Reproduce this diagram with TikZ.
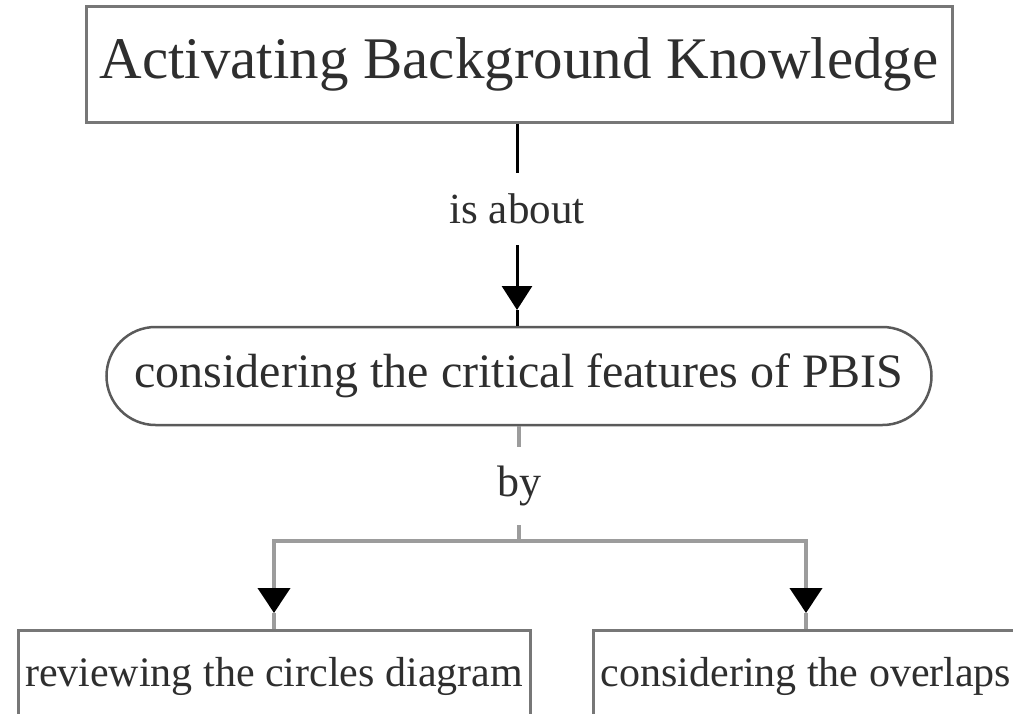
\documentclass[tikz,border=0pt]{standalone}
\usepackage{fontspec}
\setmainfont{Liberation Serif}
\usetikzlibrary{arrows.meta,shapes.misc}
\definecolor{txt}{HTML}{2E2E2E}
\definecolor{boxline}{HTML}{777777}
\definecolor{pillline}{HTML}{5A5A5A}
\definecolor{lowline}{HTML}{9C9C9C}
\tikzset{
  conceptbox/.style={draw=boxline, line width=3pt, fill=white, text=txt, inner sep=0pt},
  pillbox/.style={rounded rectangle, draw=pillline, line width=2.5pt, fill=white, text=txt, inner sep=0pt},
  linklabel/.style={text=txt, inner sep=0pt},
  topline/.style={draw=black, line width=3pt},
  grayline/.style={draw=lowline, line width=4pt},
  tip/.style={-{Triangle[width=30pt,length=24pt]}},
  tiplow/.style={-{Triangle[width=32pt,length=25pt,color=black]}}
}
\begin{document}
\begin{tikzpicture}[x=1pt,y=-1pt]
\useasboundingbox (0,0) rectangle (1013,713);
\clip (0,0) rectangle (1013,713);
\fill[white] (0,0) rectangle (1013,713);

\node[conceptbox, minimum width=866pt, minimum height=116pt] (top) at (519,64)
  {\fontsize{59}{70}\selectfont Activating Background Knowledge};

\node[linklabel, minimum height=72pt] (isabout) at (517,209)
  {\fontsize{43}{50}\selectfont is about};

\node[pillbox, minimum width=825pt, minimum height=98pt] (pill) at (519,376)
  {\fontsize{48}{56}\selectfont considering the critical features of PBIS};

\node[linklabel, minimum height=78pt] (by) at (519,486)
  {\fontsize{44}{52}\selectfont by};

\node[conceptbox, anchor=north, minimum width=512pt, text height=56pt, text depth=100pt] (left) at (274,629)
  {\fontsize{42}{50}\selectfont reviewing the circles diagram};
\node[conceptbox, anchor=north, minimum width=426pt, text height=56pt, text depth=100pt] (right) at (806,629)
  {\fontsize{42}{50}\selectfont considering the overlaps};

\coordinate (a1) at (517,310);
\coordinate (j) at (519,541);
\coordinate (la) at (274,613);
\coordinate (ra) at (806,613);

\draw[topline] (top.south -| isabout) -- (isabout);
\draw[topline, tip] (isabout) -- (a1);
\draw[topline] (a1) -- (pill.north -| a1);

\draw[grayline] (pill.south -| by) -- (by);
\draw[grayline] (by) -- (j);
\draw[grayline, tiplow] (j) -| (la);
\draw[grayline, tiplow] (j) -| (ra);
\draw[grayline] (la) -- (left.north);
\draw[grayline] (ra) -- (right.north);
\end{tikzpicture}
\end{document}
